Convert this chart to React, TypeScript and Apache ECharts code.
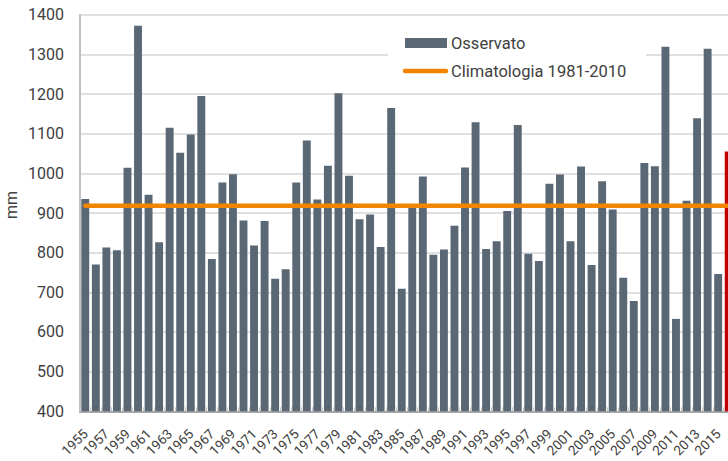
import React, { useEffect, useRef } from "react";
import * as echarts from "echarts";

const years: string[] = [
  "1955","1956","1957","1958","1959","1960","1961","1962","1963","1964",
  "1965","1966","1967","1968","1969","1970","1971","1972","1973","1974",
  "1975","1976","1977","1978","1979","1980","1981","1982","1983","1984",
  "1985","1986","1987","1988","1989","1990","1991","1992","1993","1994",
  "1995","1996","1997","1998","1999","2000","2001","2002","2003","2004",
  "2005","2006","2007","2008","2009","2010","2011","2012","2013","2014",
  "2015","2016",
];

const observed: number[] = [
  935, 770, 813, 806, 1014, 1372, 946, 826, 1115, 1052,
  1098, 1195, 784, 977, 998, 881, 818, 880, 734, 758,
  977, 1083, 934, 1019, 1202, 994, 884, 896, 814, 1165,
  709, 915, 992, 795, 808, 868, 1015, 1129, 809, 829,
  905, 1122, 797, 779, 974, 997, 829, 1017, 769, 980,
  909, 737, 678, 1026, 1018, 1319, 633, 931, 1139, 1314,
  746, 1055,
];

const climatologyValue = 918;
const highlightYear = "2016";

const seriesNames = ["Osservato", "Climatologia 1981-2010"];
const yAxisName = "mm";

const BAR_COLOR = "#5a6876";
const HIGHLIGHT_COLOR = "#c00000";
const LINE_COLOR = "#f28500";
const TEXT_COLOR = "#404040";
const FONT = "Roboto";

export default function App() {
  const ref = useRef<HTMLDivElement>(null);

  useEffect(() => {
    if (!ref.current) return;
    const chart = echarts.init(ref.current, undefined, { renderer: "svg" });
    const climatology = years.map(() => climatologyValue);
    chart.setOption({
      animation: false,
      backgroundColor: "#ffffff",
      textStyle: { fontFamily: FONT },
      grid: { left: 80, top: 14.7, width: 654, height: 396.6, containLabel: false },
      xAxis: {
        type: "category",
        data: years,
        boundaryGap: true,
        axisLine: { show: true, lineStyle: { color: "#a6a6a6", width: 2 } },
        axisTick: { show: true, inside: true, length: 4, interval: 0, lineStyle: { color: "#c8c8c8", width: 1 } },
        axisLabel: {
          interval: 1,
          rotate: 45,
          margin: 20,
          color: TEXT_COLOR,
          fontFamily: FONT,
          fontSize: 13.5,
        },
      },
      yAxis: {
        type: "value",
        min: 400,
        max: 1400,
        interval: 100,
        axisLine: { show: true, lineStyle: { color: "#c0c0c0", width: 2 } },
        axisTick: { show: false },
        splitLine: { show: true, lineStyle: { color: "#d6d6d6", width: 1.5 } },
        axisLabel: {
          margin: 16,
          color: TEXT_COLOR,
          fontFamily: FONT,
          fontSize: 16,
          formatter: (v: number) => String(v),
        },
      },
      series: [
        {
          name: seriesNames[0],
          type: "bar",
          barWidth: "75%",
          data: observed.map((v, i) => ({
            value: v,
            itemStyle: { color: years[i] === highlightYear ? HIGHLIGHT_COLOR : BAR_COLOR },
          })),
          z: 2,
        },
        {
          name: seriesNames[1],
          type: "line",
          data: climatology,
          symbol: "none",
          lineStyle: { color: LINE_COLOR, width: 4.5, cap: "round" },
          z: 3,
        },
      ],
      graphic: [
        {
          type: "text",
          x: 11,
          y: 205,
          rotation: Math.PI / 2,
          style: {
            text: yAxisName,
            fill: TEXT_COLOR,
            font: `16px ${FONT}`,
            align: "center",
            verticalAlign: "middle",
          },
        },
        {
          type: "rect",
          shape: { x: 388, y: 24, width: 258, height: 62 },
          style: { fill: "#ffffff" },
          z: 10,
        },
        {
          type: "rect",
          shape: { x: 405, y: 38, width: 42, height: 10 },
          style: { fill: BAR_COLOR },
          z: 11,
        },
        {
          type: "text",
          x: 451,
          y: 43,
          style: {
            text: seriesNames[0],
            fill: TEXT_COLOR,
            font: `16.5px ${FONT}`,
            verticalAlign: "middle",
          },
          z: 11,
        },
        {
          type: "line",
          shape: { x1: 405, y1: 71, x2: 446, y2: 71 },
          style: { stroke: LINE_COLOR, lineWidth: 4.5, lineCap: "round" },
          z: 11,
        },
        {
          type: "text",
          x: 451,
          y: 71,
          style: {
            text: seriesNames[1],
            fill: TEXT_COLOR,
            font: `16.5px ${FONT}`,
            verticalAlign: "middle",
          },
          z: 11,
        },
      ],
    });
    return () => chart.dispose();
  }, []);

  return (
    <div
      style={{
        position: "fixed",
        left: 0,
        top: 0,
        width: 728,
        height: 461,
        overflow: "hidden",
        background: "#ffffff",
      }}
    >
      <div ref={ref} style={{ width: 760, height: 461 }} />
    </div>
  );
}
